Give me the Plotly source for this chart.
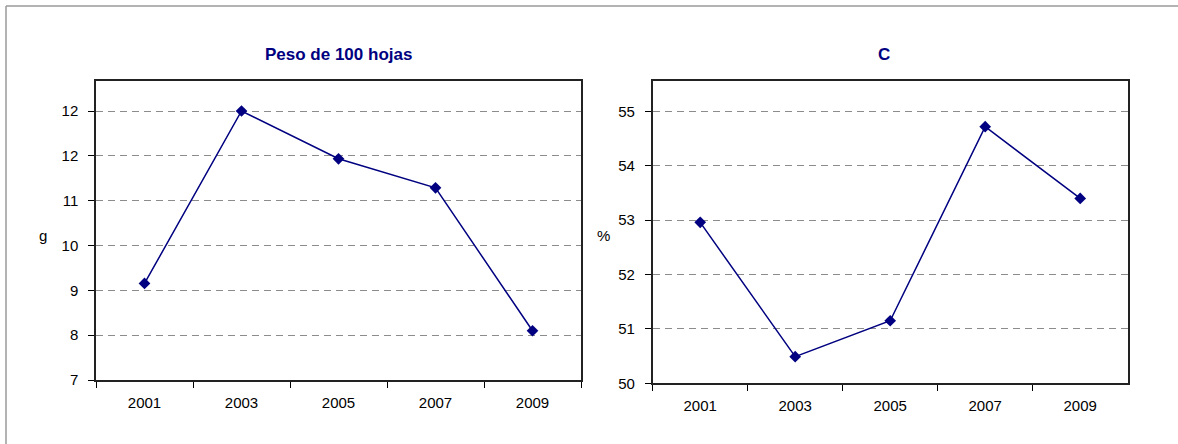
import plotly.graph_objects as go

W, H = 1178, 444
H_EFF = 436.0  # vertical layout reference used for placement

years = ["2001", "2003", "2005", "2007", "2009"]
peso_vals = [8.96, 12.46, 11.49, 10.90, 8.00]
c_vals = [52.96, 50.49, 51.15, 54.72, 53.40]

title_left = "Peso de 100 hojas"
title_right = "C"
ylabel_left = "g"
ylabel_right = "%"

NAVY = "#000080"
FONT = "Liberation Sans, Arial, sans-serif"

def px_x(v):
    return v / W

def px_y(v):
    return 1 - v / H_EFF

fig = go.Figure()

fig.add_trace(go.Scatter(x=years, y=peso_vals, mode="lines+markers",
                         line=dict(color=NAVY, width=1.5),
                         marker=dict(symbol="diamond", size=9, color=NAVY),
                         xaxis="x", yaxis="y", showlegend=False))
fig.add_trace(go.Scatter(x=years, y=c_vals, mode="lines+markers",
                         line=dict(color=NAVY, width=1.5),
                         marker=dict(symbol="diamond", size=9, color=NAVY),
                         xaxis="x2", yaxis="y2", showlegend=False))

tickfont = dict(family=FONT, size=15, color="#000000")

xcommon = dict(type="category", tickson="boundaries", ticks="outside", ticklen=6,
               tickcolor="#000000", showgrid=False, showline=True, mirror=True,
               linecolor="#222222", linewidth=1.5, tickfont=tickfont,
               ticklabelstandoff=8, zeroline=False, fixedrange=True)
ycommon = dict(ticks="outside", ticklen=6, tickcolor="#000000", showgrid=True,
               gridcolor="#8c8c8c", gridwidth=1, griddash="7px,5px",
               showline=True, mirror=True, linecolor="#222222", linewidth=1.5,
               tickfont=tickfont, zeroline=False, fixedrange=True,
               ticklabelstandoff=7)

fig.update_layout(
    width=W, height=H, autosize=False,
    margin=dict(l=0, r=0, t=0, b=0),
    paper_bgcolor="white", plot_bgcolor="white",
    xaxis=dict(domain=[px_x(96), px_x(581)], anchor="y", range=[-0.5, 4.5], **xcommon),
    yaxis=dict(domain=[px_y(380), px_y(80.7)], anchor="x", range=[7, 13.075],
               tick0=7, dtick=0.91, tickformat=".0f", **ycommon),
    xaxis2=dict(domain=[px_x(652.7), px_x(1127.7)], anchor="y2", range=[-0.5, 4.5], **xcommon),
    yaxis2=dict(domain=[px_y(383.3), px_y(81)], anchor="x2", range=[50, 55.56],
                tick0=50, dtick=1, **ycommon),
    shapes=[
        dict(type="line", xref="paper", yref="paper", x0=px_x(6), x1=1.05,
             y0=px_y(6), y1=px_y(6), line=dict(color="#9a9a9a", width=1.5)),
        dict(type="line", xref="paper", yref="paper", x0=px_x(6), x1=px_x(6),
             y0=px_y(6), y1=-0.1, line=dict(color="#9a9a9a", width=1.5)),
    ],
    annotations=[
        dict(text="<b>" + title_left + "</b>", x=px_x(338.5), y=px_y(54.5),
             xref="paper", yref="paper", showarrow=False, xanchor="center",
             yanchor="middle", font=dict(family=FONT, size=17, color=NAVY)),
        dict(text="<b>" + title_right + "</b>", x=px_x(884), y=px_y(54.5),
             xref="paper", yref="paper", showarrow=False, xanchor="center",
             yanchor="middle", font=dict(family=FONT, size=17, color=NAVY)),
        dict(text=ylabel_left, x=px_x(43), y=px_y(235), xref="paper", yref="paper",
             showarrow=False, xanchor="center", yanchor="middle",
             font=dict(family=FONT, size=15, color="#000000")),
        dict(text=ylabel_right, x=px_x(603), y=px_y(235), xref="paper", yref="paper",
             showarrow=False, xanchor="center", yanchor="middle",
             font=dict(family=FONT, size=15, color="#000000")),
    ],
)

fig.write_html("out.html",
               config={"responsive": False, "displayModeBar": False},
               post_script="document.body.style.margin='0';document.body.style.overflow='hidden';")
